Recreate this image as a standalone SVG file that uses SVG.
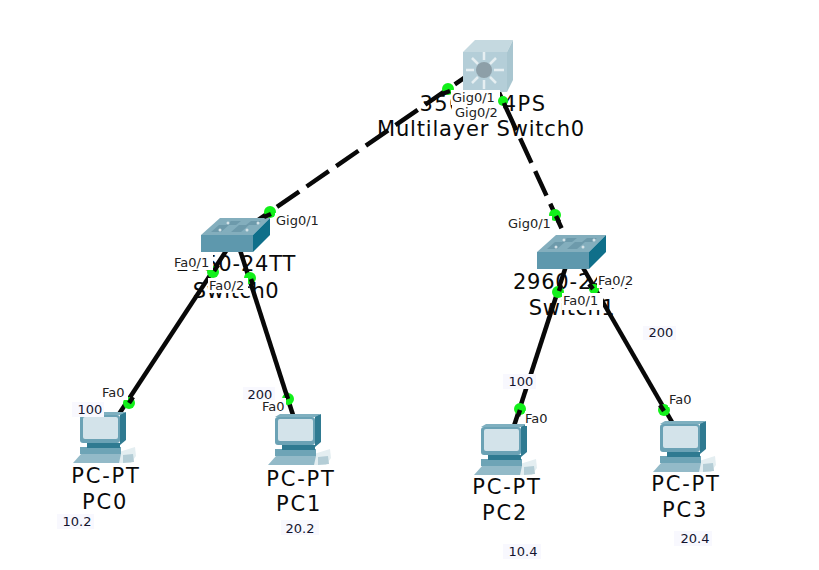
<svg xmlns="http://www.w3.org/2000/svg" width="819" height="570" viewBox="0 0 819 570">
<style>
.big{font-family:"DejaVu Sans","Liberation Sans",sans-serif;font-size:21px;fill:#0a0a0a;text-anchor:middle}
.pct{letter-spacing:1.8px}
.sm{font-family:"DejaVu Sans","Liberation Sans",sans-serif;font-size:13px;fill:#222}
.nt{font-family:"DejaVu Sans","Liberation Sans",sans-serif;font-size:13px;fill:#14142e;text-anchor:middle}
.sol{stroke:#080808;stroke-width:4.5;fill:none}
.dash{stroke:#080808;stroke-width:4.5;fill:none;stroke-dasharray:27 9}
.dot{fill:#12f01a}
.wb{fill:#fff}
.pb{fill:#f8f8fe}
</style>
<defs>
<g id="pc">
<path d="M46 40 L62 35 L63 44 L58 51 L46 51Z" fill="#e4eef1"/>
<path d="M50 43 L60 42 L61 50 L50 51Z" fill="#b4cdd6"/>
<path d="M0 51 L8 42 L48 42 L46 51Z" fill="#93bac8"/>
<rect x="7" y="35" width="41" height="7" fill="#6ea4b6"/>
<rect x="14" y="31" width="33" height="5" fill="#2f7a91"/>
<path d="M47 2 L53 0 L53 28 L47 33Z" fill="#2f7a91"/>
<path d="M7 3 L12 0 L53 0 L47 3Z" fill="#7fb0c0"/>
<rect x="7" y="3" width="40" height="28" rx="3" fill="#6ba2b5"/>
<rect x="10" y="5" width="35" height="22" rx="2" fill="#d3e3ea"/>
</g>
<g id="sw">
<path d="M0 17 L19 0 L69 0 L52 17Z" fill="#83aebd"/>
<path d="M52 17 L69 0 L69 17 L52 34Z" fill="#0f6f8a"/>
<rect x="0" y="17" width="52" height="17" fill="#5e98ad"/>
<path d="M10 14 L18 7 L28 7 L20 14Z M30 14 L38 7 L48 7 L40 14Z M25 7 L30 3 L40 3 L35 7Z M45 7 L50 3 L60 3 L55 7Z" fill="#6d9aab"/>
<circle cx="19" cy="12" r="1.5" fill="#d5e3e8"/><circle cx="46" cy="12" r="1.5" fill="#d5e3e8"/>
<circle cx="27" cy="5" r="1.5" fill="#d5e3e8"/><circle cx="57" cy="5" r="1.5" fill="#d5e3e8"/>
</g>
</defs>
<rect width="819" height="570" fill="#fff"/>
<g id="connectors">
<path class="dash" d="M477 69 L258 220"/>
<path class="dash" d="M490 73 L566 238"/>
<path class="sol" d="M228 248 L119 414"/>
<path class="sol" d="M240 250 L293 415"/>
<path class="sol" d="M566 266 L514 426"/>
<path class="sol" d="M582 266 L672 422"/>
</g>
<g id="multilayer-switch0">
<path d="M463 52 L475 40 L513 40 L507 52Z" fill="#c5d9e0"/>
<path d="M507 52 L513 40 L513 80 L507 92Z" fill="#a9c6d0"/>
<rect x="463" y="52" width="44" height="40" fill="#b4ced8"/>
<circle cx="484" cy="70" r="8" fill="#8d9fa8"/>
<path d="M484 52V60M484 80V89M466 70H474M494 70H504M472 58L478 64M496 58L490 64M472 83L478 77M496 83L490 77" stroke="#e6eff2" stroke-width="2.5"/>
<text class="big" x="483" y="111" letter-spacing="1.5">3560-24PS</text>
<text class="big" x="481" y="136" letter-spacing="0.8">Multilayer Switch0</text>
<rect class="wb" x="452" y="90" width="48" height="30"/>
</g>
<g id="switch0">
<use href="#sw" x="201" y="218"/>
<text class="big" x="236" y="271" letter-spacing="0.8">2950-24TT</text>
<text class="big" x="236" y="298" letter-spacing="0.5">Switch0</text>
</g>
<g id="switch1">
<use href="#sw" x="537" y="235"/>
<text class="big" x="573" y="289" letter-spacing="0.8">2960-24TT</text>
<text class="big" x="572" y="315" letter-spacing="0.5">Switch1</text>
</g>
<g id="pc0"><use href="#pc" x="73" y="412"/><text class="big pct" x="106" y="483">PC-PT</text><text class="big pct" x="105" y="509">PC0</text></g>
<g id="pc1"><use href="#pc" x="268" y="414"/><text class="big pct" x="301" y="486">PC-PT</text><text class="big pct" x="299" y="511">PC1</text></g>
<g id="pc2"><use href="#pc" x="474" y="424"/><text class="big pct" x="507" y="494">PC-PT</text><text class="big pct" x="505" y="520">PC2</text></g>
<g id="pc3"><use href="#pc" x="653" y="421"/><text class="big pct" x="686" y="491">PC-PT</text><text class="big pct" x="685" y="517">PC3</text></g>
<g id="port-dots">
<circle class="dot" cx="448" cy="89" r="6"/><circle class="dot" cx="503" cy="101" r="5"/>
<circle class="dot" cx="270" cy="212" r="6"/><circle class="dot" cx="555" cy="215" r="6"/>
<circle class="dot" cx="213" cy="272" r="6"/><circle class="dot" cx="250" cy="278" r="6"/>
<circle class="dot" cx="558" cy="292" r="6"/><circle class="dot" cx="594" cy="289" r="5"/>
<circle class="dot" cx="129" cy="403" r="6"/><circle class="dot" cx="288" cy="399" r="6"/>
<circle class="dot" cx="520" cy="409" r="6"/><circle class="dot" cx="664" cy="410" r="6"/>
<path class="sol" stroke-linecap="butt" d="M442 94L450 91M506 108L504 103M264 217L271 214M559 222L556 216M218 265L214 271M253 285L251 279M561 285L559 291M589 284L593 289M133 397L129 403M286 393L288 399M518 416L520 410M660 405L664 411"/>
</g>
<g id="port-labels">
<rect class="wb" x="451" y="90" width="47" height="15"/><text class="sm" x="452" y="102">Gig0/1</text>
<rect class="wb" x="455" y="105" width="45" height="15"/><text class="sm" x="455" y="117">Gig0/2</text>
<rect class="wb" x="275" y="213" width="46" height="15"/><text class="sm" x="276" y="225">Gig0/1</text>
<rect class="wb" x="507" y="216" width="45" height="15"/><text class="sm" x="508" y="228">Gig0/1</text>
<rect class="wb" x="173" y="255" width="40" height="15"/><text class="sm" x="174" y="267">Fa0/1</text>
<rect class="wb" x="208" y="278" width="40" height="15"/><text class="sm" x="209" y="290">Fa0/2</text>
<rect class="wb" x="597" y="273" width="40" height="15"/><text class="sm" x="598" y="285">Fa0/2</text>
<rect class="wb" x="562" y="293" width="41" height="17"/><text class="sm" x="563" y="305">Fa0/1</text>
<rect class="wb" x="101" y="385" width="27" height="15"/><text class="sm" x="102" y="397">Fa0</text>
<rect class="wb" x="262" y="398" width="24" height="15"/><text class="sm" x="262" y="411">Fa0</text>
<rect class="wb" x="525" y="411" width="25" height="15"/><text class="sm" x="525" y="423">Fa0</text>
<rect class="wb" x="668" y="392" width="27" height="15"/><text class="sm" x="669" y="404">Fa0</text>
</g>
<g id="notes">
<rect class="pb" x="72" y="402" width="32" height="15"/><text class="nt" x="90" y="414">100</text>
<rect class="pb" x="243" y="387" width="32" height="13"/><text class="nt" x="260" y="399">200</text>
<rect class="pb" x="503" y="374" width="33" height="15"/><text class="nt" x="521" y="386">100</text>
<rect class="pb" x="643" y="326" width="33" height="14"/><text class="nt" x="661" y="337">200</text>
<rect class="pb" x="57" y="514" width="37" height="15"/><text class="nt" x="77" y="526">10.2</text>
<rect class="pb" x="281" y="520" width="38" height="15"/><text class="nt" x="300" y="533">20.2</text>
<rect class="pb" x="503" y="544" width="38" height="15"/><text class="nt" x="523" y="556">10.4</text>
<rect class="pb" x="674" y="531" width="38" height="15"/><text class="nt" x="695" y="543">20.4</text>
</g>
</svg>
